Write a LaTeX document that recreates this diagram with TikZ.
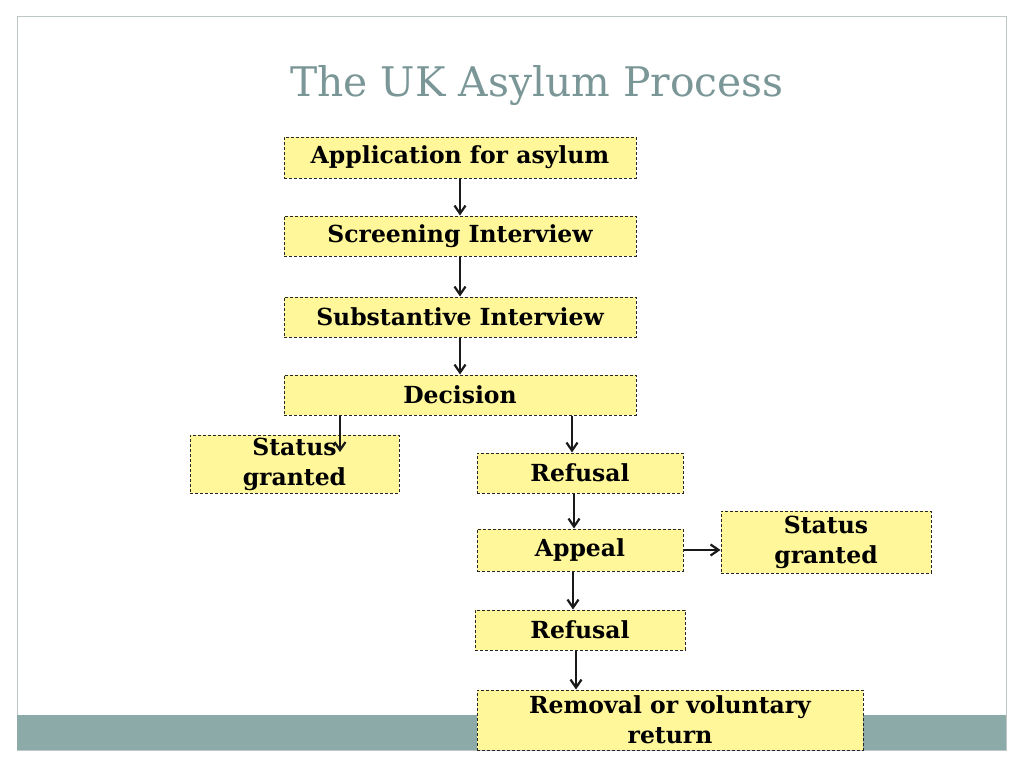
\documentclass[tikz,border=0pt]{standalone}
\usepackage{fontspec}
\setmainfont{DejaVu Serif}
\usepackage{tikz}
\usetikzlibrary{arrows.meta}

\definecolor{boxfill}{RGB}{255,247,153}
\definecolor{titlegray}{RGB}{122,150,150}
\definecolor{barteal}{RGB}{139,170,168}
\definecolor{framegray}{RGB}{190,198,198}

\tikzset{
  stepbox/.style={rectangle, draw=black!85, densely dashed, line width=1pt,
    fill=boxfill, inner sep=0pt, align=center,
    font=\fontsize{23.5}{30}\selectfont\bfseries},
  flow/.style={-{Straight Barb[length=8pt,width=11pt]}, line width=2.2pt, black!90}
}

\begin{document}
\begin{tikzpicture}[x=1pt, y=-1pt]
    \useasboundingbox (0,0) rectangle (1024,768);
    % slide frame and bottom bar
    \draw[framegray, line width=1pt] (17,17) rectangle (1006,750);
    \fill[barteal] (17,715) rectangle (1006,750);

    \node[titlegray, font=\fontsize{40.8}{48}\selectfont] (title) at (537,86) {The UK Asylum Process};

    \foreach \pos/\name/\w/\h/\txt in {
        {(460,157.5)/app/352/41/Application for asylum},
        {(460,236)/scr/352/40/Screening Interview},
        {(460,317)/sub/352/40/Substantive Interview},
        {(460,395)/dec/352/40/Decision},
        {(294.5,464)/gr1/209/58/Status\\granted},
        {(580,473)/ref1/206/40/Refusal},
        {(580,550)/app2/206/42/Appeal},
        {(826,542)/gr2/210/62/Status\\granted},
        {(580,630)/ref2/210/40/Refusal},
        {(670,720)/rem/386/60/Removal or voluntary\\return}}
        \node[stepbox, minimum width=\w pt, minimum height=\h pt] (\name) at \pos {\txt};

    \coordinate (grin) at (340,452);

    \draw[flow] (app) -- (scr);
    \draw[flow] (scr) -- (sub);
    \draw[flow] (sub) -- (dec);
    \draw[flow] (dec.south -| grin) -- (grin);
    \draw[flow] (dec.south -| 572,0) -- (ref1.north -| 572,0);
    \draw[flow] (ref1.south -| 574,0) -- (app2.north -| 574,0);
    \draw[flow] (app2.east) -- (gr2.west |- app2.east);
    \draw[flow] (app2.south -| 573,0) -- (ref2.north -| 573,0);
    \draw[flow] (ref2.south -| 576,0) -- (rem.north -| 576,0);
\end{tikzpicture}
\end{document}
